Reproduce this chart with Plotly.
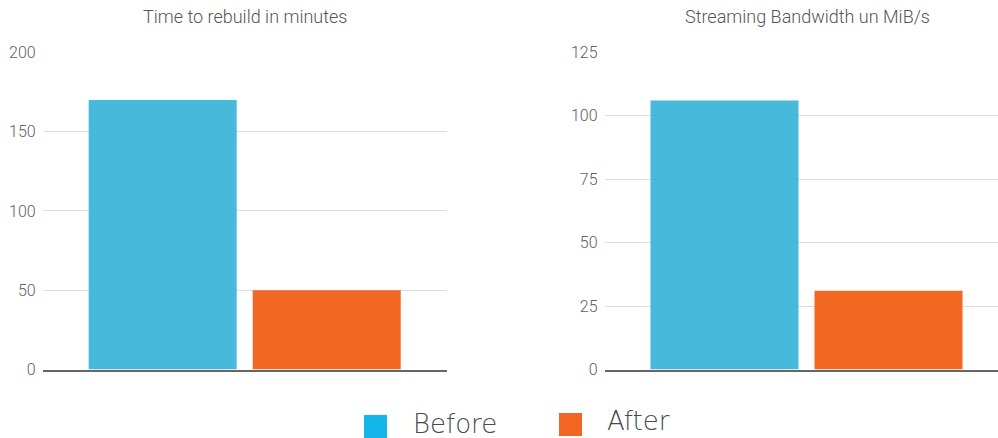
import plotly.graph_objects as go

categories = ["Before", "After"]
rebuild_minutes = [170, 50]
bandwidth_mib = [106, 31]
rebuild_ticks = [0, 50, 100, 150, 200]
bandwidth_ticks = [0, 25, 50, 75, 100, 125]
titles = ["Time to rebuild in minutes", "Streaming Bandwidth un MiB/s"]

bar_colors = ["#47B9DB", "#F26722"]
legend_colors = ["#13B5EA", "#F26522"]

W, H = 998, 438
def px(x):
    return x / W
def py(y):
    return (H - y) / H

fig = go.Figure()
for i, cat in enumerate(categories):
    fig.add_trace(go.Bar(x=[0], y=[rebuild_minutes[i]], name=cat, marker_color=bar_colors[i],
                         marker_line_width=0, xaxis="x", yaxis="y", showlegend=False,
                         offsetgroup=str(i)))
    fig.add_trace(go.Bar(x=[0], y=[bandwidth_mib[i]], name=cat, marker_color=bar_colors[i],
                         marker_line_width=0, xaxis="x2", yaxis="y2", showlegend=False,
                         offsetgroup=str(i)))

ydom = [py(369.5), py(52.3)]
left_dom = [px(42.7), px(446.7)]
right_dom = [px(604.5), 1.0]
unit_px = 446.7 - 42.7
right_range_end = -0.5 + (W - 604.5) / unit_px

axis_common = dict(showgrid=False, zeroline=False, showticklabels=False, ticks="",
                   showline=True, linecolor="#666666", linewidth=1.5, fixedrange=True,
                   automargin=False)
yaxis_common = dict(showgrid=True, gridcolor="#DDDDE3", gridwidth=1, zeroline=False,
                    showline=False, ticks="", ticklabelstandoff=6, automargin=False,
                    tickfont=dict(family="Roboto", size=16, color="#606060", weight=300))

fig.update_layout(
    width=W, height=H,
    margin=dict(l=0, r=0, t=0, b=0, pad=0, autoexpand=False),
    paper_bgcolor="white", plot_bgcolor="white",
    barmode="group", bargap=0.188, bargroupgap=0.0976,
    showlegend=False,
    xaxis=dict(domain=left_dom, range=[-0.5, 0.5], anchor="y", **axis_common),
    yaxis=dict(domain=ydom, range=[0, 200], tickvals=rebuild_ticks, anchor="x", **yaxis_common),
    xaxis2=dict(domain=right_dom, range=[-0.5, right_range_end], anchor="y2", **axis_common),
    yaxis2=dict(domain=ydom, range=[0, 125], tickvals=bandwidth_ticks, anchor="x2", **yaxis_common),
)

title_font = dict(family="Roboto", size=18, color="#555555", weight=300)
fig.add_annotation(text=titles[0], x=px(244.5), y=py(17), xref="paper", yref="paper",
                   showarrow=False, xanchor="center", yanchor="middle", font=title_font)
fig.add_annotation(text=titles[1], x=px(807.5), y=py(17), xref="paper", yref="paper",
                   showarrow=False, xanchor="center", yanchor="middle", font=title_font)

# legend drawn as shapes + text
legend_boxes = [(364, 415, 387, 438), (559, 413, 582, 436)]
legend_text_x = [411, 605]
legend_text_y = [424, 421]
for i, cat in enumerate(categories):
    x0, y0, x1, y1 = legend_boxes[i]
    fig.add_shape(type="rect", xref="paper", yref="paper",
                  x0=px(x0), x1=px(x1), y0=py(y1), y1=py(y0),
                  fillcolor=legend_colors[i], line_width=0)
    fig.add_annotation(text=cat, x=px(legend_text_x[i]), y=py(legend_text_y[i]),
                       xref="paper", yref="paper", showarrow=False,
                       xanchor="left", yanchor="middle",
                       font=dict(family="DejaVu Sans", size=26, color="#4A4A4A", weight=200))

fig.write_html("out.html")
